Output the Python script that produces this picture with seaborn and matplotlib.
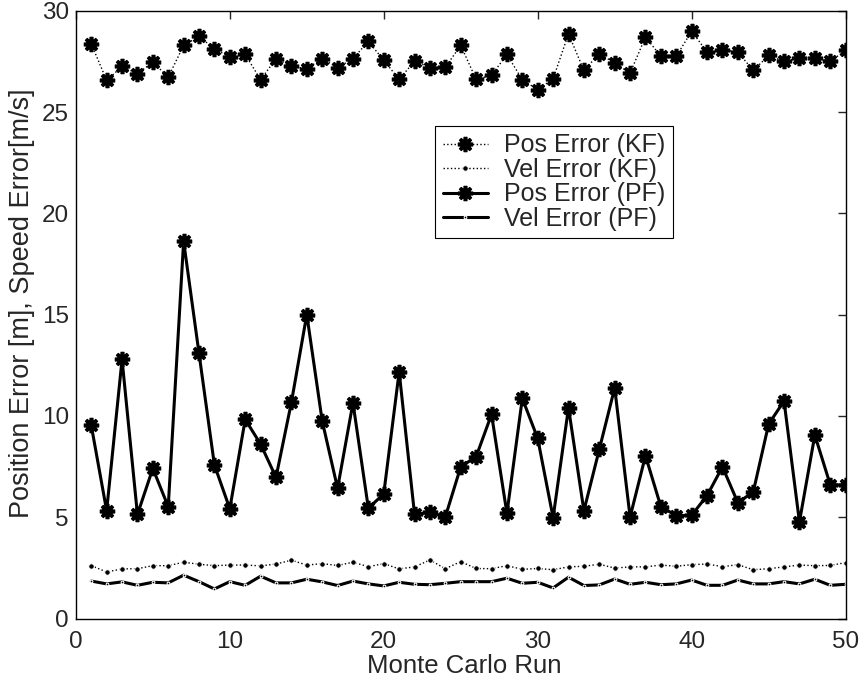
import numpy as np
import pandas as pd
import matplotlib
matplotlib.use("Agg")
import matplotlib.pyplot as plt
import seaborn as sns

# Monte Carlo run index
runs = list(range(1, 51))

# values
pos_kf = [28.38, 26.57, 27.26, 26.90, 27.47, 26.73, 28.30, 28.74, 28.13, 27.72,
          27.85, 26.60, 27.64, 27.26, 27.15, 27.64, 27.20, 27.64, 28.50, 27.56,
          26.62, 27.52, 27.20, 27.22, 28.30, 26.62, 26.82, 27.85, 26.60, 26.11,
          26.65, 28.87, 27.06, 27.89, 27.43, 26.93, 28.71, 27.76, 27.76, 29.00,
          27.97, 28.08, 27.97, 27.06, 27.80, 27.51, 27.67, 27.67, 27.51, 28.05]

vel_kf = [2.61, 2.30, 2.45, 2.46, 2.61, 2.61, 2.78, 2.68, 2.61, 2.64,
          2.64, 2.60, 2.69, 2.88, 2.64, 2.71, 2.62, 2.78, 2.56, 2.71,
          2.45, 2.55, 2.89, 2.46, 2.81, 2.47, 2.46, 2.61, 2.43, 2.47,
          2.41, 2.55, 2.58, 2.68, 2.49, 2.55, 2.55, 2.64, 2.58, 2.66,
          2.69, 2.56, 2.66, 2.41, 2.46, 2.55, 2.64, 2.61, 2.62, 2.76]

pos_pf = [9.54, 5.32, 12.79, 5.14, 7.41, 5.52, 18.63, 13.09, 7.58, 5.42,
          9.83, 8.61, 6.97, 10.67, 15.01, 9.76, 6.43, 10.65, 5.44, 6.16,
          12.18, 5.14, 5.24, 5.02, 7.49, 7.99, 10.08, 5.19, 10.87, 8.89,
          4.98, 10.41, 5.32, 8.35, 11.39, 5.01, 8.04, 5.52, 5.08, 5.10,
          6.07, 7.49, 5.72, 6.25, 9.60, 10.74, 4.77, 9.06, 6.61, 6.58]

vel_pf = [1.85, 1.71, 1.81, 1.64, 1.79, 1.76, 2.14, 1.82, 1.46, 1.82,
          1.64, 2.09, 1.76, 1.76, 1.94, 1.81, 1.63, 1.85, 1.71, 1.61,
          1.79, 1.69, 1.67, 1.74, 1.82, 1.82, 1.82, 1.99, 1.74, 1.79,
          1.51, 2.04, 1.63, 1.66, 1.95, 1.69, 1.79, 1.67, 1.71, 1.90,
          1.64, 1.64, 1.90, 1.71, 1.71, 1.82, 1.71, 1.94, 1.64, 1.69]

df = pd.DataFrame({"run": runs, "pos_kf": pos_kf, "vel_kf": vel_kf,
                   "pos_pf": pos_pf, "vel_pf": vel_pf})

sns.set_style("white")
plt.rcParams['font.family'] = ['Liberation Sans', 'DejaVu Sans']

fig = plt.figure(figsize=(8.62, 6.83), dpi=100)
ax = fig.add_axes([0.088, 0.0944, 0.893, 0.8896])

# matlab style '*' marker drawn with a thick pen
star = (8, 2, 0)
sns.lineplot(data=df, x="run", y="pos_kf", ax=ax, color="black", linestyle=":",
             linewidth=1.0, marker=star, markersize=11, markeredgewidth=2.6,
             markeredgecolor="black", label="Pos Error (KF)")
sns.lineplot(data=df, x="run", y="vel_kf", ax=ax, color="black", linestyle=":",
             linewidth=1.0, marker="o", markersize=4, label="Vel Error (KF)")
sns.lineplot(data=df, x="run", y="pos_pf", ax=ax, color="black", linestyle="-",
             linewidth=2.2, marker=star, markersize=11, markeredgewidth=2.6,
             markeredgecolor="black", label="Pos Error (PF)")
sns.lineplot(data=df, x="run", y="vel_pf", ax=ax, color="black", linestyle="-",
             linewidth=2.2, marker="o", markersize=2, label="Vel Error (PF)")

ax.set_xlim(0, 50)
ax.set_ylim(0, 30)
ax.set_xticks(range(0, 51, 10))
ax.set_yticks(range(0, 31, 5))
ax.tick_params(direction="in", length=6, width=1, top=True, right=True,
               labelsize=17.5)
ax.tick_params(axis="x", pad=9)
ax.tick_params(axis="y", pad=5)
for s in ax.spines.values():
    s.set_color("black")
    s.set_linewidth(1.0)

ax.set_xlabel("Monte Carlo Run", fontsize=18.5)
ax.set_ylabel("Position Error [m], Speed Error[m/s]", fontsize=19.5)
ax.xaxis.set_label_coords(0.504, -0.058)
ax.yaxis.set_label_coords(-0.053, 0.519)

leg = ax.legend(loc="upper left", bbox_to_anchor=(0.467, 0.811), fontsize=18,
                frameon=True, fancybox=False, framealpha=1, edgecolor="black",
                handlelength=1.8, borderpad=0.3, labelspacing=0.02,
                handletextpad=0.65, borderaxespad=0)
leg.get_frame().set_linewidth(0.8)

fig.savefig("out.png", dpi=100)
